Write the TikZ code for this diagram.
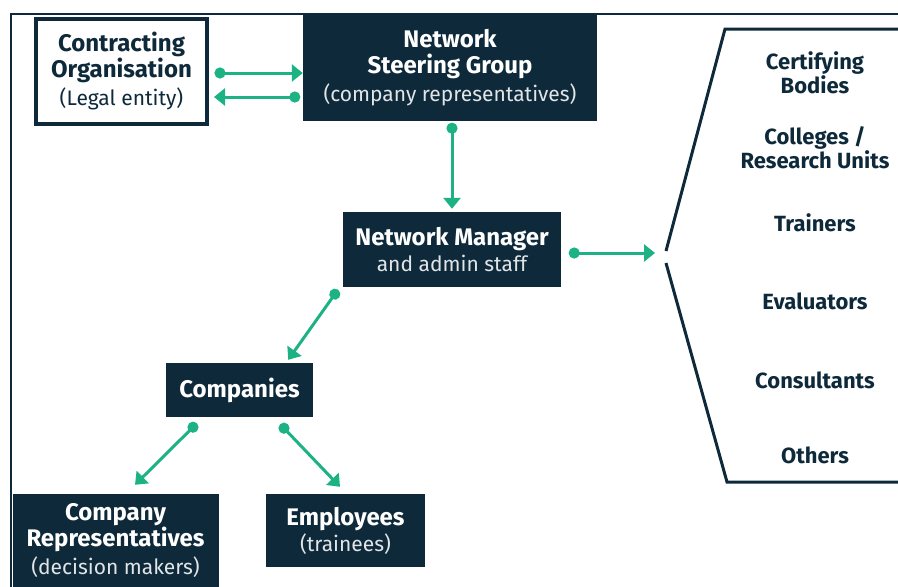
\documentclass[tikz,border=0pt]{standalone}
\usepackage{fontspec}
\setmainfont{Fira Sans}
\usetikzlibrary{arrows.meta}

\definecolor{navy}{HTML}{0E2A3A}
\definecolor{netgreen}{HTML}{1DB283}
\newcommand\boxhead{\fontsize{24}{26}\selectfont\bfseries}
\newcommand\boxnote{\fontsize{21}{28}\selectfont\mdseries}
\newcommand\sidehead{\fontsize{22}{22}\selectfont\bfseries}

\tikzset{
  dark/.style={fill=navy, text=white, align=center, inner sep=0pt, font=\boxhead},
  light/.style={draw=navy, line width=4pt, fill=white, text=navy, align=center, inner sep=0pt, font=\boxhead},
  side/.style={text=navy, align=center, inner sep=0pt, font=\sidehead},
  link/.style={draw=netgreen, line width=3pt, shorten <=-5.5pt,
    {Circle[length=11pt]}-{Triangle[length=11pt,width=17pt]}},
}

\begin{document}
\begin{tikzpicture}[x=1pt, y=-1pt]
\useasboundingbox (0,0) rectangle (898,587);
% frame
\draw[navy, line width=2pt] (898,14) -- (11,14) -- (11,587);

% boxes
\node[light, minimum width=171, minimum height=105] (co) at (121.5,71.5)
  {Contracting\\Organisation\\[2pt]{\boxnote (Legal entity)}};
\node[dark, minimum width=294, minimum height=107] (sg) at (450,67.5)
  {Network\\Steering Group\\[2pt]{\boxnote\color{white!88!navy}(company representatives)}};
\node[dark, minimum width=218, minimum height=75] (nm) at (452,249.5)
  {Network Manager\\{\boxnote\color{white!88!navy}and admin staff}};
\node[dark, minimum width=147, minimum height=54] (cp) at (239.5,390)
  {Companies};
\node[dark, minimum width=206, minimum height=93] (cr) at (115.5,540.5)
  {Company\\Representatives\\[2pt]{\boxnote\color{white!88!navy}(decision makers)}};
\node[dark, minimum width=159, minimum height=73] (em) at (345.5,530.5)
  {Employees\\{\boxnote\color{white!88!navy}(trainees)}};

% partners
\coordinate (brk) at (664,257);
\draw[navy, line width=3pt] (898,29) -- (725,29) -- (666,251);
\draw[navy, line width=3pt] (666,263) -- (727,482) -- (898,482);
\node[side] (l1) at (815,73) {Certifying\\Bodies};
\node[side] (l2) at (815,148) {Colleges /\\Research Units};
\node[side] (l3) at (815,223) {Trainers};
\node[side] (l4) at (815,301) {Evaluators};
\node[side] (l5) at (815,380) {Consultants};
\node[side] (l6) at (815,455) {Others};

% connectors
\draw[link] ([shift={(11,1.5)}]co.east) -- ([shift={(0,5.5)}]sg.west);
\draw[link] ([shift={(-8,29.5)}]sg.west) -- ([shift={(5,25.5)}]co.east);
\draw[link] ([shift={(2,7)}]sg.south) -- ([shift={(0,-3)}]nm.north);
\draw[link] ([shift={(13,3.5)}]nm.east) -- ([shift={(-9,-4)}]brk);
\draw[link] ([shift={(-8,7)}]nm.south west) -- ([shift={(-25,-3)}]cp.north east);
\draw[link] ([shift={(-46.5,10)}]cp.south) -- ([shift={(19.5,-9)}]cr.north);
\draw[link] ([shift={(44.5,11)}]cp.south) -- ([shift={(-5.5,-7)}]em.north);
\end{tikzpicture}
\end{document}
